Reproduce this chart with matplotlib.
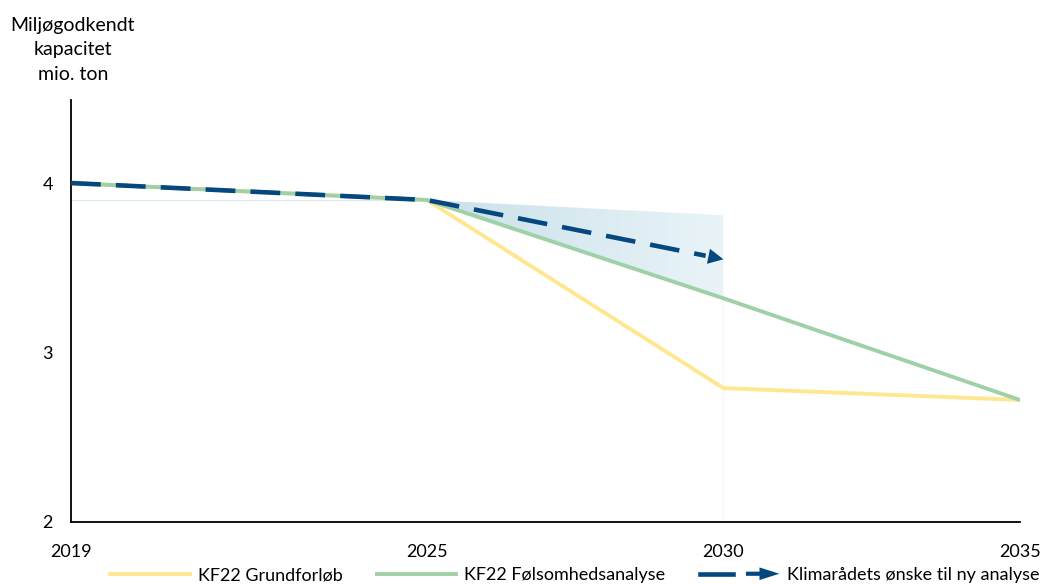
import matplotlib.pyplot as plt
import numpy as np
from matplotlib.lines import Line2D
from matplotlib.patches import Polygon, FancyArrow
from matplotlib.legend_handler import HandlerBase
from matplotlib.colors import LinearSegmentedColormap

plt.rcParams['font.family'] = ['Lato', 'DejaVu Sans']

# data
years = [2019, 2025, 2030, 2035]
grundforloeb = [4.0, 3.9, 2.79, 2.72]
foelsomhed = [4.0, 3.9, 3.32, 2.72]
klimaraad_years = [2019, 2025, 2030]
klimaraad = [4.0, 3.9, 3.55]
band_top_2030 = 3.81

yellow = '#ffe78f'
green = '#9fd0a7'
blue = '#05477f'

fig = plt.figure(figsize=(10.4, 5.85), dpi=100)
ax = fig.add_axes([71 / 1040, 1 - 522 / 585, (1020 - 71) / 1040, (522 - 100) / 585])

# faint guide lines
ax.plot([years[0], years[1]], [foelsomhed[1]] * 2, color='#d9ebf1', lw=0.8, zorder=1)
ax.plot([years[2], years[2]], [2, foelsomhed[2]], color='#f8f8f8', lw=0.8, zorder=1)

# gradient band between 2025 and 2030
poly = Polygon([(years[1], foelsomhed[1]), (years[2], band_top_2030), (years[2], foelsomhed[2])],
               closed=True, facecolor='none', edgecolor='none')
ax.add_patch(poly)
cmap = LinearSegmentedColormap.from_list('band', ['#c9e0e9', '#e9f4f8'])
grad = np.linspace(0, 1, 256).reshape(1, -1)
img = ax.imshow(grad, cmap=cmap, aspect='auto', extent=[years[1], years[2], foelsomhed[2], foelsomhed[1]],
                zorder=2, interpolation='bicubic')
img.set_clip_path(poly)

ax.plot(years, grundforloeb, color=yellow, lw=2.8, zorder=3)
ax.plot(years, foelsomhed, color=green, lw=2.8, zorder=4)

# dashed line with arrow head
x_end, y_end = klimaraad_years[-1], klimaraad[-1]
slope = (klimaraad[-1] - klimaraad[-2]) / (klimaraad_years[-1] - klimaraad_years[-2])
ax.plot(klimaraad_years[:-1] + [x_end - 0.3], klimaraad[:-1] + [y_end - slope * 0.3],
        color=blue, lw=3.3, dashes=(6.5, 3.3), zorder=5)
ax.annotate('', xy=(x_end, y_end), xytext=(x_end - 0.4, y_end - slope * 0.4),
            arrowprops=dict(arrowstyle='-|>,head_length=1.1,head_width=0.55', color=blue, lw=0,
                            shrinkA=0, shrinkB=0), zorder=6)

ax.set_xlim(2019, 2035)
ax.set_ylim(2, 4.49)
ax.set_xticks(years)
ax.set_yticks([2, 3, 4])
ax.tick_params(length=0, labelsize=13)
ax.tick_params(axis='x', pad=16)
ax.tick_params(axis='y', pad=13)
for s in ['top', 'right']:
    ax.spines[s].set_visible(False)
for s in ['left', 'bottom']:
    ax.spines[s].set_linewidth(1.3)
    ax.spines[s].set_color('black')

fig.text(73 / 1040, 1 - 50 / 585, "Miljøgodkendt\nkapacitet\nmio. ton", ha='center', va='center',
         fontsize=14, linespacing=1.5)


class ArrowHandler(HandlerBase):
    def create_artists(self, legend, orig_handle, xdescent, ydescent, width, height, fontsize, trans):
        y = height / 2 - ydescent
        line = Line2D([0, width * 0.42], [y, y], color=blue, lw=3.3, transform=trans)
        arr = FancyArrow(width * 0.58, y, width * 0.42, 0, width=3.0, head_width=height * 1.0,
                         head_length=width * 0.25, length_includes_head=True,
                         color=blue, lw=0, transform=trans)
        return [line, arr]


h1 = Line2D([0], [0], color=yellow, lw=2.8)
h2 = Line2D([0], [0], color=green, lw=2.8)
h3 = Line2D([0], [0], color=blue)
fig.legend([h1, h2, h3], ['KF22 Grundforløb', 'KF22 Følsomhedsanalyse', 'Klimarådets ønske til ny analyse'],
           handler_map={h3: ArrowHandler()}, loc='center', bbox_to_anchor=(0.553, 0.017), ncol=3,
           frameon=False, fontsize=13, handlelength=4.4, handletextpad=0.45, columnspacing=1.9)

fig.savefig('out.png', dpi=100)
